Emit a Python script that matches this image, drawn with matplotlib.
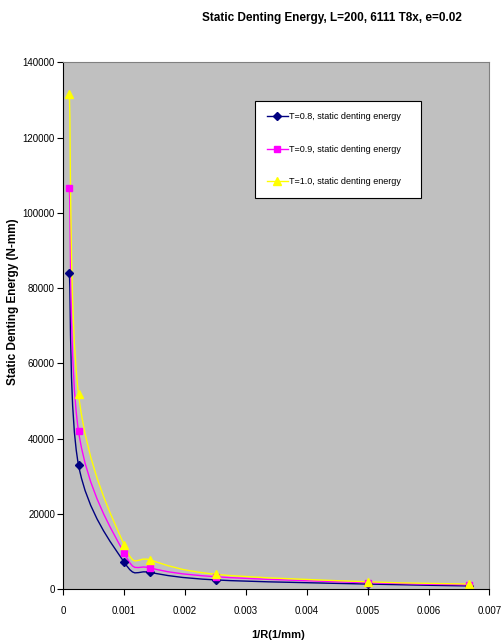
import matplotlib

matplotlib.use("Agg")

import matplotlib.pyplot as plt
import numpy as np
from matplotlib.path import Path
from matplotlib.patches import PathPatch

plt.rcParams["font.family"] = ["Liberation Sans", "DejaVu Sans"]

# 1/R values (1/mm) for R = 10000, 4000, 1000, 700, 400, 200, 150
inv_r = [0.0001, 0.00025, 0.001, 0.001429, 0.0025, 0.005, 0.006667]
energy_t08 = [84000, 33000, 7200, 4500, 2500, 1400, 900]
energy_t09 = [106500, 42000, 9600, 5700, 3350, 1750, 1200]
energy_t10 = [131700, 51800, 11800, 7800, 4000, 2000, 1400]

series = [
    ("T=0.8, static denting energy", energy_t08, "#000080", "D", 4.2),
    ("T=0.9, static denting energy", energy_t09, "#FF00FF", "s", 5.0),
    ("T=1.0, static denting energy", energy_t10, "#FFFF00", "^", 5.5),
]

x_ticks = [0, 0.001, 0.002, 0.003, 0.004, 0.005, 0.006, 0.007]
x_ticklabels = ["0", "0.001", "0.002", "0.003", "0.004", "0.005", "0.006", "0.007"]
y_ticks = [0, 20000, 40000, 60000, 80000, 100000, 120000, 140000]


def smooth_path(x, y, sx, sy):
    # Catmull-Rom style bezier, computed in roughly screen-proportional units
    pts = np.column_stack([np.asarray(x) * sx, np.asarray(y) * sy])
    n = len(pts)
    verts = [pts[0]]
    codes = [Path.MOVETO]
    for i in range(n - 1):
        p0 = pts[i - 1] if i > 0 else pts[i]
        p3 = pts[i + 2] if i + 2 < n else pts[i + 1]
        c1 = pts[i] + (pts[i + 1] - p0) / 6
        c2 = pts[i + 1] - (p3 - pts[i]) / 6
        verts += [c1, c2, pts[i + 1]]
        codes += [Path.CURVE4] * 3
    verts = np.array(verts) / np.array([sx, sy])
    return Path(verts, codes)


fig = plt.figure(figsize=(5.04, 6.44), dpi=100)
ax = fig.add_axes([0.1256, 0.0849, 0.8456, 0.8184])
ax.set_facecolor("#C0C0C0")

sx = 426 / 0.007
sy = 527 / 140000
for label, vals, color, marker, ms in series:
    ax.add_patch(PathPatch(smooth_path(inv_r, vals, sx, sy), fill=False,
                           edgecolor=color, lw=1.0))
    ax.plot(inv_r, vals, linestyle="None", marker=marker, markersize=ms,
            markeredgecolor=color, markerfacecolor=color, label=label)

# legend handles with lines
handles = [plt.Line2D([], [], color=c, lw=1.0, marker=m, markersize=ms,
                      markerfacecolor=c, markeredgecolor=c)
           for _, _, c, m, ms in series]
leg = ax.legend(handles, [s[0] for s in series], loc="upper left",
                bbox_to_anchor=(0.45, 0.7197, 0.3886, 0.2073), mode="expand",
                fontsize=6.5, frameon=True, fancybox=False, borderpad=1.3,
                labelspacing=2.6, handlelength=2.3, handletextpad=0.2,
                borderaxespad=0)
leg.get_frame().set_edgecolor("black")
leg.get_frame().set_linewidth(0.8)
leg.get_frame().set_facecolor("white")
leg.get_frame().set_alpha(1)

ax.set_xlim(0, 0.007)
ax.set_ylim(0, 140000)
ax.set_xticks(x_ticks)
ax.set_xticklabels(x_ticklabels)
ax.set_yticks(y_ticks)
ax.set_yticklabels([str(v) for v in y_ticks])
ax.tick_params(direction="out", length=4, width=0.8, labelsize=7, pad=2)
ax.tick_params(axis="x", pad=8)

for side in ["left", "bottom"]:
    ax.spines[side].set_color("black")
    ax.spines[side].set_linewidth(0.8)
for side in ["top", "right"]:
    ax.spines[side].set_color("#808080")
    ax.spines[side].set_linewidth(0.8)

ax.set_xlabel("1/R(1/mm)", fontsize=8, fontweight="bold")
ax.xaxis.set_label_coords(0.504, -0.078)
ax.set_ylabel("Static Denting Energy (N-mm)", fontsize=8.5, fontweight="bold")
ax.yaxis.set_label_coords(-0.105, 0.545)

fig.text(0.658, 0.972, "Static Denting Energy, L=200, 6111 T8x, e=0.02",
         ha="center", va="center", fontsize=8.5, fontweight="bold")

fig.savefig("out.png", dpi=100)
plt.close(fig)
